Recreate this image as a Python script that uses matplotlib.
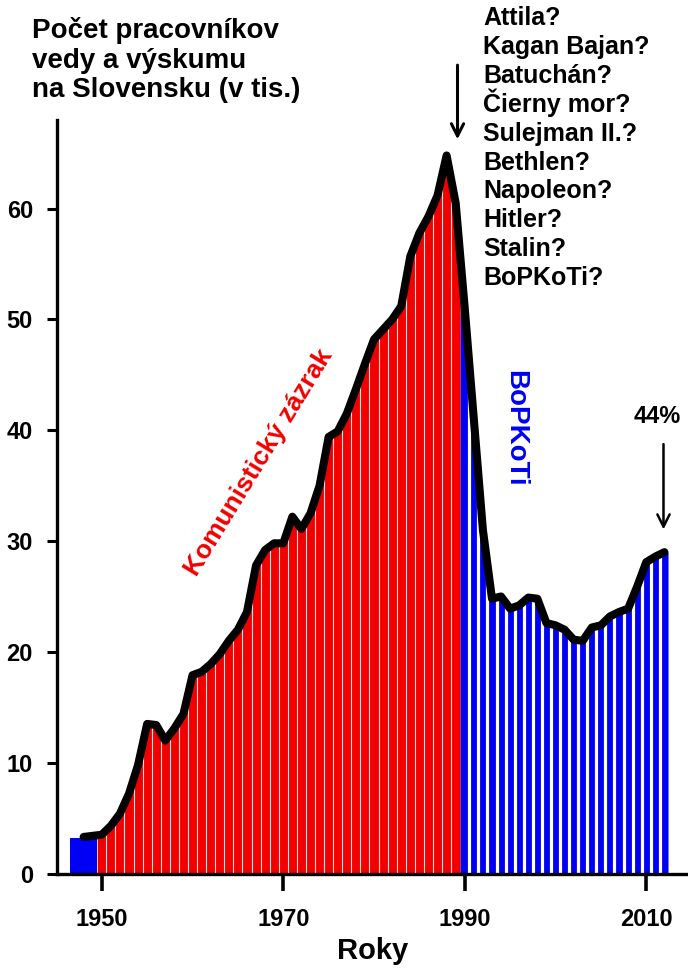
import numpy as np
import matplotlib
matplotlib.use('Agg')
import matplotlib.pyplot as plt

plt.rcParams['font.family'] = ['Liberation Sans', 'DejaVu Sans']
plt.rcParams['font.weight'] = 'bold'

# pocet pracovnikov vedy a vyskumu (tis.), odcitane z grafu
years = np.arange(1948, 2013)
workers = [3.3, 3.4, 3.5, 4.3, 5.4, 7.2, 9.8, 13.5, 13.4, 12.0,
           13.1, 14.4, 17.9, 18.2, 18.9, 19.8, 21.0, 22.0, 23.6, 27.8,
           29.2, 29.8, 29.8, 32.2, 31.1, 32.5, 35.0, 39.4, 39.9, 41.5,
           43.7, 46.0, 48.2, 49.1, 50.0, 51.2, 55.7, 57.8, 59.3, 61.2,
           64.8, 60.5, 51.0, 41.0, 31.0, 24.8, 25.0, 23.9, 24.2, 24.9,
           24.8, 22.6, 22.4, 22.0, 21.1, 21.0, 22.2, 22.4, 23.2, 23.6,
           23.9, 25.9, 28.1, 28.6, 29.0]
early_year = 1948      # povojnovy stav, jeden blok
early_value = 3.2

title_lines = ['Počet pracovníkov', 'vedy a výskumu', 'na Slovensku (v tis.)']
regimes = ['Komunistický zázrak', 'BoPKoTi']
suspects = ['Attila?', 'Kagan Bajan?', 'Batuchán?', 'Čierny mor?', 'Sulejman II.?',
            'Bethlen?', 'Napoleon?', 'Hitler?', 'Stalin?', 'BoPKoTi?']
x_ticks = [1950, 1970, 1990, 2010]
y_ticks = [0, 10, 20, 30, 40, 50, 60]

workers = np.array(workers)
red = '#f20000'
blue = '#0000f5'

fig = plt.figure(figsize=(6.88, 9.71), dpi=100)
ax = fig.add_axes([57.3 / 688, 97.5 / 971, (688 - 57.3) / 688, (873.5 - 120) / 971])

# modry blok pred rokom 1950
ax.bar(early_year, early_value, width=3, color=blue, zorder=1)

# cervena plocha (1950-1989) a modra plocha (1990-2012)
xr = np.concatenate([[1949.5], years[(years >= 1950) & (years <= 1989)], [1989.5]])
ax.fill_between(xr, 0, np.interp(xr, years, workers), color=red, lw=0, zorder=1)
xb = np.concatenate([[1989.5], years[years >= 1990], [2012.4]])
ax.fill_between(xb, 0, np.interp(xb, years, workers), color=blue, lw=0, zorder=1)

# biele delenie medzi rokmi
edges = np.arange(1950.5, 2012, 1.0)
tops = np.interp(edges, years, workers)
ax.vlines(edges[edges < 1989.5], 0, tops[edges < 1989.5], color='#ffe0e0', lw=0.8, zorder=2)
ax.vlines(edges[edges > 1989.5], 0, tops[edges > 1989.5], color='white', lw=2.3, zorder=2)

ax.plot(years, workers, color='black', lw=5.8, solid_joinstyle='round',
        solid_capstyle='round', zorder=4)

ax.set_xlim(1945.1, 2014.6)
ax.set_ylim(0, 68)
ax.set_xticks(x_ticks)
ax.set_yticks(y_ticks)
for s in ['top', 'right']:
    ax.spines[s].set_visible(False)
for s in ['left', 'bottom']:
    ax.spines[s].set_linewidth(2.4)
ax.tick_params(axis='x', length=12, width=2.6, pad=13, labelsize=17)
ax.tick_params(axis='y', length=7.5, width=2.2, pad=10, labelsize=17)
ax.set_xlabel('Roky', fontsize=21, fontweight='bold', labelpad=4)

ax.text(1967.3, 37.1, regimes[0], color=red, fontsize=19, rotation=58.5,
        ha='center', va='center', zorder=5)
ax.text(1995.5, 40.2, regimes[1], color=blue, fontsize=20, rotation=-90,
        ha='center', va='center', zorder=5)

ax.annotate('', xy=(1989.2, 66.0), xytext=(1989.2, 73.2), annotation_clip=False,
            arrowprops=dict(arrowstyle='->', color='black', lw=2.2,
                            mutation_scale=22))
ax.annotate('', xy=(2011.9, 30.8), xytext=(2011.9, 39.0), annotation_clip=False,
            arrowprops=dict(arrowstyle='->', color='black', lw=1.8,
                            mutation_scale=22))
ax.text(2011.2, 40.7, '44%', fontsize=17, ha='center', va='baseline')

# nadpis a zoznam, riadok po riadku (rovnake rozostupy aj s diakritikou)
for i, line in enumerate(title_lines):
    fig.text(32 / 688, 1 - (38 + i * 29.5) / 971, line, fontsize=20,
             ha='left', va='baseline')
for i, name in enumerate(suspects):
    fig.text(483 / 688, 1 - (25 + i * 28.9) / 971, name, fontsize=18,
             ha='left', va='baseline')

fig.savefig('out.png', dpi=100)
